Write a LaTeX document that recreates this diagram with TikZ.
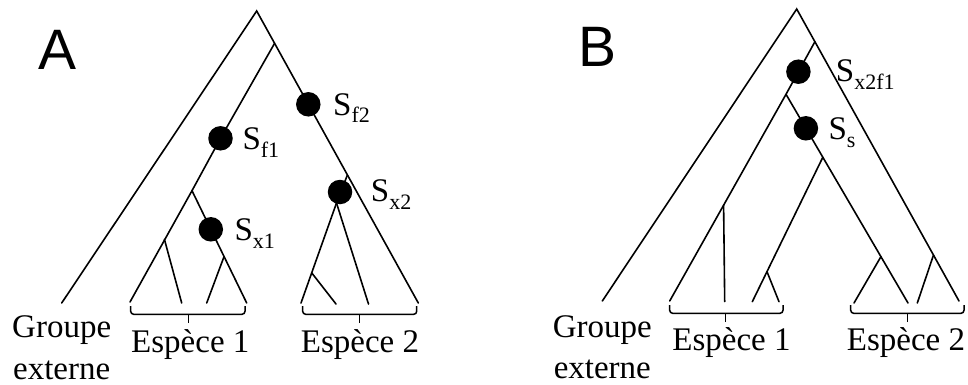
\documentclass[tikz,border=0pt]{standalone}
\usepackage{fontspec}
\setmainfont{Liberation Serif}
\newfontfamily\lettrefont{Liberation Sans}
\newcommand{\Slab}[1]{S\raisebox{-8pt}{\fontsize{22}{22}\selectfont #1}}
\tikzset{
  branch/.style={line width=1.6pt, line cap=round},
  brk/.style={line width=1.5pt, rounded corners=3pt},
  dotnode/.style={circle, fill=black, minimum size=24.5pt, inner sep=0pt},
  lbl/.style={font=\fontsize{33}{33}\selectfont, inner sep=0pt, anchor=base west},
  txt/.style={font=\fontsize{33}{33}\selectfont, inner sep=0pt, anchor=base},
  lettre/.style={font=\lettrefont\fontsize{57}{57}\selectfont, inner sep=0pt, anchor=base west}
}
\begin{document}
\begin{tikzpicture}[x=1pt,y=-1pt]
\useasboundingbox (0,0) rectangle (968,385);
% ---------------- Panel A ----------------
\coordinate (rootA) at (256.7,11);
\coordinate (ogA) at (61.7,303);
\coordinate (rA) at (418.3,303);
\coordinate (n1A) at (274.6,43.3);
\coordinate (f1A) at (220.5,138.3);
\coordinate (n2A) at (192,190.7);
\coordinate (lA1) at (130,302);
\coordinate (n3A) at (164.4,239.3);
\coordinate (lA2) at (181.7,303);
\coordinate (x1A) at (210.8,229.3);
\coordinate (n4A) at (224,256.7);
\coordinate (lA3) at (206.7,303);
\coordinate (lA4) at (246.7,303);
\coordinate (f2A) at (308.3,104.3);
\coordinate (n5A) at (347.4,175);
\coordinate (x2A) at (340,192);
\coordinate (sA) at (336.5,203);
\coordinate (lA5) at (301,303);
\coordinate (n6A) at (311.8,273);
\coordinate (lA6) at (336,304);
\coordinate (lA7) at (368.5,304);

\draw[branch] (ogA) -- (rootA) -- (rA);
\draw[branch] (n1A) -- (f1A) -- (n2A) -- (lA1);
\draw[branch] (n3A) -- (lA2);
\draw[branch] (n2A) -- (x1A) -- (lA4);
\draw[branch] (n4A) -- (lA3);
\draw[branch] (n5A) -- (sA) -- (lA5);
\draw[branch] (n6A) -- (lA6);
\draw[branch] (sA) -- (lA7);

\node[dotnode] (Df1A) at (f1A) {};
\node[dotnode] (Dx1A) at (x1A) {};
\node[dotnode] (Df2A) at (f2A) {};
\node[dotnode] (Dx2A) at (x2A) {};

\node[lbl] (Lf1A) at (242.3,149) {\Slab{f1}};
\node[lbl] (Lf2A) at (333,115) {\Slab{f2}};
\node[lbl] (Lx1A) at (234.3,240) {\Slab{x1}};
\node[lbl] (Lx2A) at (370.7,201.7) {\Slab{x2}};

\coordinate (e1LA) at (130.7,306);
\coordinate (e1RA) at (245,306);
\coordinate (e1BA) at (188.3,323);
\coordinate (e2LA) at (302.7,306);
\coordinate (e2RA) at (416.7,306);
\coordinate (e2BA) at (359.3,323);
\draw[brk] (e1LA) -- ++(0,8.3) -| (e1RA);
\draw[brk] (e1BA) -- ++(0,-9);
\draw[brk] (e2LA) -- ++(0,8.3) -| (e2RA);
\draw[brk] (e2BA) -- ++(0,-9);

\node[txt] (G1A) at (61.7,337.5) {Groupe};
\node[txt] (G2A) at (61.7,379) {externe};
\node[txt] (E1A) at (190.3,352.5) {Espèce 1};
\node[txt] (E2A) at (360,352.5) {Espèce 2};
\node[lettre] (LA) at (38.3,69.3) {A};

% ---------------- Panel B ----------------
\coordinate (rootB) at (796.7,9);
\coordinate (ogB) at (602.3,301);
\coordinate (rB) at (959,301);
\coordinate (n1B) at (814.9,41.7);
\coordinate (xfB) at (798.4,71.7);
\coordinate (n2B) at (786,94.3);
\coordinate (lB1) at (669.7,301);
\coordinate (n3B) at (723.6,205);
\coordinate (lB2) at (724.7,301.5);
\coordinate (sB) at (805.9,128.3);
\coordinate (n4B) at (822.8,157.3);
\coordinate (lB3) at (752.3,301.7);
\coordinate (n6B) at (767,271.7);
\coordinate (lB4) at (779,301.7);
\coordinate (n5B) at (880.9,256.7);
\coordinate (lB5) at (854,303);
\coordinate (lB6) at (908,303);
\coordinate (n7B) at (933.5,255);
\coordinate (lB7) at (917.3,303);

\draw[branch] (ogB) -- (rootB) -- (rB);
\draw[branch] (n1B) -- (xfB) -- (n2B) -- (lB1);
\draw[branch] (n3B) -- (lB2);
\draw[branch] (n2B) -- (sB) -- (lB6);
\draw[branch] (n4B) -- (lB3);
\draw[branch] (n6B) -- (lB4);
\draw[branch] (n5B) -- (lB5);
\draw[branch] (n7B) -- (lB7);

\node[dotnode] (DxfB) at (xfB) {};
\node[dotnode] (DsB) at (sB) {};

\node[lbl] (LxfB) at (835.7,81.7) {\Slab{x2f1}};
\node[lbl] (LsB) at (828.3,139.3) {\Slab{s}};

\coordinate (e1LB) at (669.7,305);
\coordinate (e1RB) at (783,305);
\coordinate (e1BB) at (725.7,322);
\coordinate (e2LB) at (850.7,305);
\coordinate (e2RB) at (964,305);
\coordinate (e2BB) at (907.3,322);
\draw[brk] (e1LB) -- ++(0,8.3) -| (e1RB);
\draw[brk] (e1BB) -- ++(0,-9);
\draw[brk] (e2LB) -- ++(0,8.3) -| (e2RB);
\draw[brk] (e2BB) -- ++(0,-9);

\node[txt] (G1B) at (602.3,337.3) {Groupe};
\node[txt] (G2B) at (602.3,378.3) {externe};
\node[txt] (E1B) at (731.5,350.5) {Espèce 1};
\node[txt] (E2B) at (906,350.5) {Espèce 2};
\node[lettre] (LB) at (578,67) {B};
\end{tikzpicture}
\end{document}
